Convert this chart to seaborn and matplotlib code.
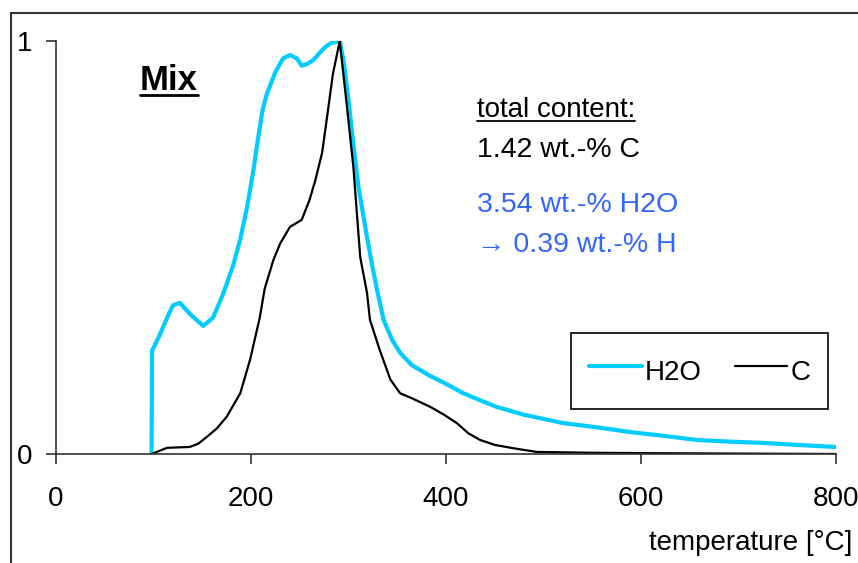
import matplotlib
matplotlib.use('Agg')
import matplotlib.pyplot as plt
import seaborn as sns
import pandas as pd
from matplotlib.lines import Line2D

# data (normalised signals vs temperature)
h2o_temp = [98, 98.5, 101.5, 106.7, 114, 120, 127, 137, 151, 161,
            171, 181.5, 189, 196, 202, 207, 212, 216, 225, 233,
            240, 247, 252, 258, 264, 270, 276, 282, 288, 291,
            295, 300, 305, 310, 315, 319, 324, 329, 336, 345,
            353, 365, 383, 400, 417, 435, 452, 480, 520, 560,
            589, 620, 657, 690, 725, 760, 799]
h2o_val = [0, 0.25, 0.264, 0.29, 0.33, 0.36, 0.366, 0.34, 0.31, 0.33,
           0.385, 0.455, 0.52, 0.598, 0.68, 0.76, 0.835, 0.87, 0.925, 0.958,
           0.966, 0.958, 0.94, 0.945, 0.954, 0.97, 0.985, 0.995, 0.998, 1.0,
           0.95, 0.857, 0.75, 0.65, 0.58, 0.525, 0.46, 0.40, 0.325, 0.275,
           0.245, 0.215, 0.19, 0.17, 0.148, 0.13, 0.114, 0.095, 0.075, 0.063,
           0.053, 0.045, 0.034, 0.03, 0.027, 0.022, 0.017]

c_temp = [98, 114, 137, 146, 155, 165, 175, 189, 199, 209,
          214, 223, 230, 240, 252, 260, 266, 273, 279, 284,
          291, 298, 305, 312, 319, 322, 332, 343, 353, 365,
          384, 398, 411, 423, 435, 450, 469, 493, 550, 609, 800]
c_val = [0, 0.015, 0.017, 0.025, 0.042, 0.062, 0.09, 0.147, 0.228, 0.33,
         0.40, 0.47, 0.51, 0.55, 0.567, 0.615, 0.663, 0.73, 0.833, 0.92,
         1.0, 0.85, 0.695, 0.477, 0.39, 0.325, 0.252, 0.18, 0.147, 0.135,
         0.114, 0.095, 0.075, 0.05, 0.034, 0.022, 0.014, 0.005, 0.003, 0.002, 0.0]

x_ticks = [0, 200, 400, 600, 800]
y_ticks = [0, 1]

cyan = '#00CCFF'
blue = '#3366FF'

sns.set_style('white')
plt.rcParams['font.family'] = ['Liberation Sans', 'DejaVu Sans']
plt.rcParams['text.color'] = 'black'

fig = plt.figure(figsize=(8.58, 5.63), dpi=100)
ax = fig.add_axes([56/858, 1-454/563, 780/858, 413/563])

h2o = pd.DataFrame({'temp': h2o_temp, 'val': h2o_val})
carbon = pd.DataFrame({'temp': c_temp, 'val': c_val})

sns.lineplot(data=h2o, x='temp', y='val', color=cyan, lw=3, ax=ax, label='H2O')
sns.lineplot(data=carbon, x='temp', y='val', color='black', lw=1.6, ax=ax, label='C')

ax.set_xlim(0, 800)
ax.set_ylim(0, 1)
ax.set_xticks(x_ticks)
ax.set_yticks(y_ticks)
ax.set_xlabel('')
ax.set_ylabel('')
for s in ['top', 'right']:
    ax.spines[s].set_visible(False)
for s in ['left', 'bottom']:
    ax.spines[s].set_color('#333333')
    ax.spines[s].set_linewidth(1.2)
ax.tick_params(axis='both', which='major', direction='out', length=7, width=1.2,
               color='#333333', labelsize=20, labelcolor='black')
ax.tick_params(axis='y', pad=10, left=True)
ax.tick_params(axis='x', pad=16, bottom=True)

leg = ax.legend(loc='center', bbox_to_anchor=(0.825, 0.201), ncol=2, fontsize=20,
                frameon=True, fancybox=False, handlelength=1.9, handletextpad=0.1,
                columnspacing=1.2, borderpad=0.65, handleheight=1.8)
leg.get_frame().set_edgecolor('black')
leg.get_frame().set_linewidth(1.2)
leg.get_frame().set_alpha(1)
for txt in leg.get_texts():
    txt.set_color('black')

fig.text(852/858, 1-543/563, 'temperature [°C]', ha='right', va='center', fontsize=20, color='black')

mix = ax.text(86, 0.881, 'Mix', fontsize=25, fontweight='bold', va='baseline', color='black')
tc = ax.text(432, 0.816, 'total content:', fontsize=20, va='baseline', color='black')
ax.text(432, 0.719, '1.42 wt.-% C', fontsize=20.5, va='baseline', color='black')
ax.text(432, 0.586, '3.54 wt.-% H2O', fontsize=20.5, va='baseline', color=blue)
ax.text(432, 0.489, '→ 0.39 wt.-% H', fontsize=20.5, va='baseline', color=blue)

# underline titles
fig.canvas.draw()
r = fig.canvas.get_renderer()
inv = fig.transFigure.inverted()
for t, lw in [(mix, 2.0), (tc, 1.3)]:
    bb = t.get_window_extent(r)
    (x0, y0), (x1, _) = inv.transform([(bb.x0, bb.y0 + 2), (bb.x1, bb.y0)])
    fig.add_artist(Line2D([x0, x1], [y0, y0], transform=fig.transFigure, color='black', lw=lw))

# outer frame (top and left edges)
fig.add_artist(Line2D([11/858, 1], [1-13/563, 1-13/563], transform=fig.transFigure, color='#333333', lw=1.5))
fig.add_artist(Line2D([11/858, 11/858], [0, 1-13/563], transform=fig.transFigure, color='#333333', lw=1.5))

fig.savefig('out.png', dpi=100)
